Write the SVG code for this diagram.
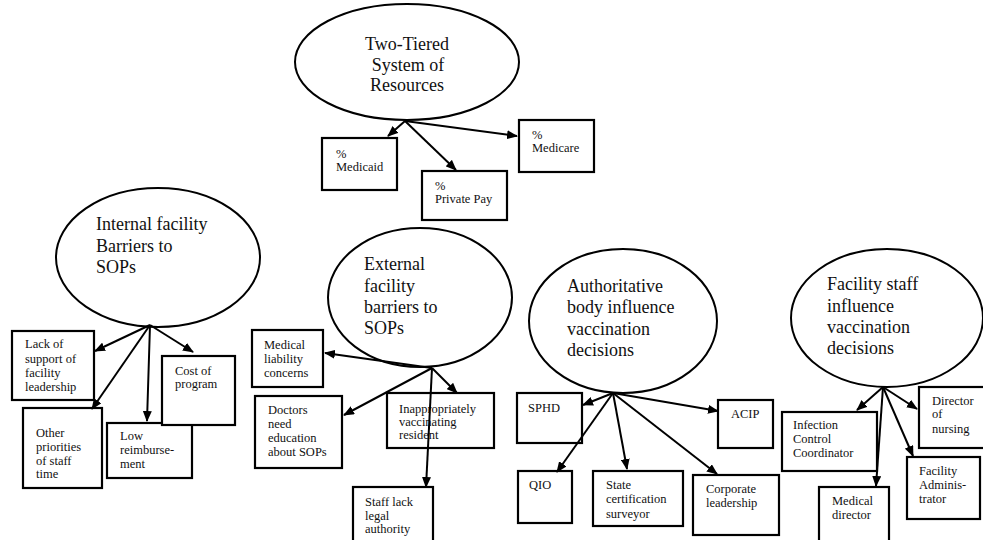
<svg xmlns="http://www.w3.org/2000/svg" width="983" height="540" viewBox="0 0 983 540">
<style>
.el{fill:#fff;stroke:#000;stroke-width:2}
.bx{fill:#fff;stroke:#000;stroke-width:2.2}
.big{font-family:"Liberation Serif","Times New Roman",serif;font-size:18px;fill:#111}
.sm{font-family:"Liberation Serif","Times New Roman",serif;font-size:12.5px;fill:#111}
.c{text-anchor:middle}
.ar{stroke:#000;stroke-width:2;fill:none;marker-end:url(#ah)}
</style>
<defs>
<marker id="ah" markerUnits="userSpaceOnUse" markerWidth="11" markerHeight="9" refX="10" refY="4.5" orient="auto">
<path d="M0,0 L11,4.5 L0,9 z" fill="#000"/>
</marker>
</defs>
<rect width="983" height="540" fill="#fff"/>

<g id="two-tiered">
<ellipse class="el" cx="407" cy="62" rx="112" ry="58"/>
<text class="big c" x="407" y="50">Two-Tiered</text>
<text class="big c" x="408" y="70.5">System of</text>
<text class="big c" x="407" y="91">Resources</text>
</g>
<g id="medicaid">
<rect class="bx" x="322" y="138" width="75" height="52"/>
<text class="sm" x="336" y="158">%</text>
<text class="sm" x="336" y="171">Medicaid</text>
</g>
<g id="private-pay">
<rect class="bx" x="422" y="171" width="85" height="49"/>
<text class="sm" x="435" y="190">%</text>
<text class="sm" x="435" y="203">Private Pay</text>
</g>
<g id="medicare">
<rect class="bx" x="519" y="120" width="75" height="52"/>
<text class="sm" x="532" y="139">%</text>
<text class="sm" x="532" y="152">Medicare</text>
</g>

<g id="internal">
<ellipse class="el" cx="158" cy="257.5" rx="102" ry="69.5"/>
<text class="big" x="96" y="230">Internal facility</text>
<text class="big" x="96" y="252">Barriers to</text>
<text class="big" x="96" y="273">SOPs</text>
</g>
<g id="lack-support">
<rect class="bx" x="12" y="331" width="82" height="69"/>
<text class="sm" x="25" y="348">Lack of</text>
<text class="sm" x="25" y="363">support of</text>
<text class="sm" x="25" y="377">facility</text>
<text class="sm" x="25" y="391">leadership</text>
</g>
<g id="other-priorities">
<rect class="bx" x="23" y="408" width="79" height="80"/>
<text class="sm" x="36" y="437">Other</text>
<text class="sm" x="36" y="451">priorities</text>
<text class="sm" x="36" y="465">of staff</text>
<text class="sm" x="36" y="478">time</text>
</g>
<g id="low-reimbursement">
<rect class="bx" x="107" y="423" width="85" height="55"/>
<text class="sm" x="120" y="440">Low</text>
<text class="sm" x="120" y="454">reimburse-</text>
<text class="sm" x="120" y="468">ment</text>
</g>
<g id="cost-program">
<rect class="bx" x="162" y="356" width="73" height="69"/>
<text class="sm" x="175" y="375">Cost of</text>
<text class="sm" x="175" y="388">program</text>
</g>

<g id="external">
<ellipse class="el" cx="420" cy="297.5" rx="92" ry="69.5"/>
<text class="big" x="364" y="270">External</text>
<text class="big" x="364" y="292">facility</text>
<text class="big" x="364" y="313">barriers to</text>
<text class="big" x="364" y="334">SOPs</text>
</g>
<g id="medical-liability">
<rect class="bx" x="252" y="330" width="71" height="57"/>
<text class="sm" x="264" y="349">Medical</text>
<text class="sm" x="264" y="363">liability</text>
<text class="sm" x="264" y="377">concerns</text>
</g>
<g id="doctors-education">
<rect class="bx" x="255" y="396" width="87" height="72"/>
<text class="sm" x="268" y="414">Doctors</text>
<text class="sm" x="268" y="428">need</text>
<text class="sm" x="268" y="442">education</text>
<text class="sm" x="268" y="456">about SOPs</text>
</g>
<g id="inappropriately">
<rect class="bx" x="387" y="393" width="107" height="55"/>
<text class="sm" x="399" y="413">Inappropriately</text>
<text class="sm" x="399" y="426">vaccinating</text>
<text class="sm" x="399" y="439">resident</text>
</g>
<g id="staff-lack">
<rect class="bx" x="353" y="487" width="80" height="60"/>
<text class="sm" x="365" y="506">Staff lack</text>
<text class="sm" x="365" y="520">legal</text>
<text class="sm" x="365" y="533">authority</text>
</g>

<g id="authoritative">
<ellipse class="el" cx="623" cy="321" rx="94" ry="72"/>
<text class="big" x="567" y="292">Authoritative</text>
<text class="big" x="567" y="313">body influence</text>
<text class="big" x="567" y="335">vaccination</text>
<text class="big" x="567" y="356">decisions</text>
</g>
<g id="sphd">
<rect class="bx" x="517" y="393" width="65" height="50"/>
<text class="sm" x="528" y="412">SPHD</text>
</g>
<g id="acip">
<rect class="bx" x="718" y="400" width="55" height="48"/>
<text class="sm" x="731" y="418">ACIP</text>
</g>
<g id="qio">
<rect class="bx" x="518" y="471" width="54" height="52"/>
<text class="sm" x="529" y="489">QIO</text>
</g>
<g id="state-cert">
<rect class="bx" x="593" y="471" width="90" height="55"/>
<text class="sm" x="606" y="489">State</text>
<text class="sm" x="606" y="503">certification</text>
<text class="sm" x="606" y="518">surveyor</text>
</g>
<g id="corporate">
<rect class="bx" x="693" y="475" width="86" height="60"/>
<text class="sm" x="706" y="493">Corporate</text>
<text class="sm" x="706" y="507">leadership</text>
</g>

<g id="facility-staff">
<ellipse class="el" cx="887" cy="318" rx="96" ry="69"/>
<text class="big" x="827" y="290">Facility staff</text>
<text class="big" x="827" y="312">influence</text>
<text class="big" x="827" y="333">vaccination</text>
<text class="big" x="827" y="354">decisions</text>
</g>
<g id="infection-control">
<rect class="bx" x="782" y="412" width="95" height="59"/>
<text class="sm" x="793" y="429">Infection</text>
<text class="sm" x="793" y="443">Control</text>
<text class="sm" x="793" y="457">Coordinator</text>
</g>
<g id="director-nursing">
<rect class="bx" x="919" y="387" width="66" height="61"/>
<text class="sm" x="932" y="405">Director</text>
<text class="sm" x="932" y="418">of</text>
<text class="sm" x="932" y="433">nursing</text>
</g>
<g id="facility-admin">
<rect class="bx" x="907" y="457" width="73" height="62"/>
<text class="sm" x="919" y="475">Facility</text>
<text class="sm" x="919" y="489">Adminis-</text>
<text class="sm" x="919" y="503">trator</text>
</g>
<g id="medical-director">
<rect class="bx" x="819" y="487" width="70" height="60"/>
<text class="sm" x="832" y="505">Medical</text>
<text class="sm" x="832" y="519">director</text>
</g>

<g id="connectors">
<line class="ar" x1="405" y1="121" x2="388" y2="136"/>
<line class="ar" x1="405" y1="121" x2="456" y2="170"/>
<line class="ar" x1="405" y1="121" x2="517" y2="136"/>

<line class="ar" x1="150" y1="325" x2="95" y2="351"/>
<line class="ar" x1="150" y1="325" x2="92" y2="409"/>
<line class="ar" x1="150" y1="325" x2="147" y2="421"/>
<line class="ar" x1="150" y1="325" x2="193" y2="352"/>

<line class="ar" x1="432" y1="368" x2="325" y2="353"/>
<line class="ar" x1="432" y1="368" x2="344" y2="415"/>
<line class="ar" x1="432" y1="368" x2="457" y2="393"/>
<line class="ar" x1="432" y1="368" x2="426" y2="487"/>

<line class="ar" x1="613" y1="393" x2="583" y2="405"/>
<line class="ar" x1="613" y1="393" x2="557" y2="472"/>
<line class="ar" x1="613" y1="393" x2="627" y2="469"/>
<line class="ar" x1="613" y1="393" x2="717" y2="474"/>
<line class="ar" x1="613" y1="393" x2="718" y2="411"/>

<line class="ar" x1="883" y1="387" x2="857" y2="410"/>
<line class="ar" x1="883" y1="387" x2="876" y2="486"/>
<line class="ar" x1="883" y1="387" x2="917" y2="409"/>
<line class="ar" x1="883" y1="387" x2="913" y2="456"/>
</g>
</svg>
